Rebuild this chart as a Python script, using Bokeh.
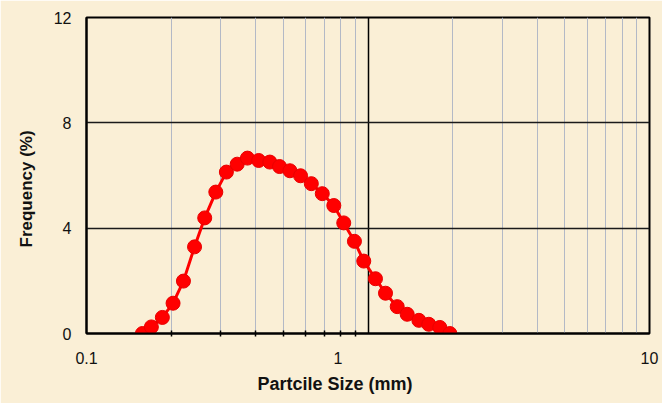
import math
from bokeh.plotting import figure
from bokeh.models import Range1d, FixedTicker, Title
from bokeh.embed import file_html
from bokeh.resources import INLINE

# ---- data ----
size_mm = [0.158, 0.170, 0.186, 0.203, 0.221, 0.242, 0.263, 0.288, 0.314, 0.343,
           0.373, 0.409, 0.448, 0.485, 0.528, 0.576, 0.629, 0.688, 0.756, 0.820,
           0.895, 0.966, 1.063, 1.154, 1.270, 1.378, 1.516, 1.644, 1.799, 1.953]
frequency = [0.00, 0.25, 0.61, 1.15, 1.99, 3.29, 4.39, 5.37, 6.13, 6.43,
             6.66, 6.57, 6.51, 6.34, 6.18, 5.99, 5.69, 5.31, 4.86, 4.20,
             3.50, 2.75, 2.08, 1.53, 1.02, 0.73, 0.50, 0.35, 0.23, 0.00]

x_ticks = [0.1, 1, 10]
x_tick_labels = ["0.1", "1", "10"]
x_minor_marks = [0.2, 0.3, 0.4, 0.5, 0.6, 0.7, 0.8, 0.9]
x_minor_grid = [0.2, 0.3, 0.4, 0.5, 0.6, 0.7, 0.8, 0.9, 2, 3, 4, 5, 6, 7, 8, 9]
y_ticks = [0, 4, 8, 12]
x_title = "Partcile Size (mm)"
y_title = "Frequency (%)"

BG = "#FAEFD6"
FONT = "Liberation Sans"
TXT = "#111111"

W, H = 662, 403
FRAME_L, FRAME_R, FRAME_T, FRAME_B = 86, 649, 17, 334
DECADE_PX = (FRAME_R - FRAME_L) / 2.0

p = figure(width=W, height=H, x_axis_type="log",
           x_range=Range1d(0.1, 10), y_range=Range1d(0, 12),
           output_backend="svg", toolbar_location=None,
           min_border_left=FRAME_L, min_border_right=W - FRAME_R,
           min_border_top=FRAME_T, min_border_bottom=H - FRAME_B)
p.background_fill_color = BG
p.border_fill_color = BG
p.outline_line_color = "black"
p.outline_line_width = 2

# in the reference the "1" label sits about 30 px left of its gridline
label_pos = [x_ticks[0], x_ticks[1] * 10 ** (-30 / DECADE_PX), x_ticks[2]]
p.xaxis.ticker = FixedTicker(ticks=label_pos, minor_ticks=x_minor_marks)
p.xaxis.major_label_overrides = {pos: lab for pos, lab in zip(label_pos, x_tick_labels)}
p.xaxis.major_label_text_font = FONT
p.xaxis.major_label_text_font_size = "16px"
p.xaxis.major_label_text_color = TXT
p.xaxis.major_label_standoff = 15
p.xaxis.major_tick_in = 0
p.xaxis.major_tick_out = 0
p.xaxis.minor_tick_in = 3
p.xaxis.minor_tick_out = 3
p.xaxis.minor_tick_line_color = "black"
p.xaxis.minor_tick_line_width = 1.5
p.xaxis.axis_line_color = "black"
p.xaxis.axis_line_width = 2

p.yaxis.ticker = FixedTicker(ticks=y_ticks)
p.yaxis.major_label_text_font = FONT
p.yaxis.major_label_text_font_size = "16px"
p.yaxis.major_label_text_color = TXT
p.yaxis.major_label_standoff = 15
p.yaxis.major_tick_in = 0
p.yaxis.major_tick_out = 0
p.yaxis.minor_tick_line_color = None
p.yaxis.axis_line_color = "black"
p.yaxis.axis_line_width = 2

# grids
p.xgrid.ticker = FixedTicker(ticks=x_ticks, minor_ticks=x_minor_grid)
p.xgrid.grid_line_color = "black"
p.xgrid.grid_line_width = 1.5
p.xgrid.minor_grid_line_color = "#B3B9C6"
p.xgrid.minor_grid_line_width = 1
p.ygrid.ticker = FixedTicker(ticks=y_ticks)
p.ygrid.grid_line_color = "#1A1A1A"
p.ygrid.grid_line_width = 1.5

# data
p.line(size_mm, frequency, line_color="#FF0000", line_width=3)
p.scatter(size_mm, frequency, size=14, fill_color="#FF0000",
          line_color="#E80000", line_width=1)

# axis titles (shifted off-centre as in the reference)
p.add_layout(Title(text=x_title, align="left", offset=171, standoff=15,
                   vertical_align="top", text_line_height=1.0,
                   text_font=FONT, text_font_size="18px", text_font_style="bold",
                   text_color=TXT), "below")
p.add_layout(Title(text=y_title, align="left", offset=86, standoff=29,
                   text_font=FONT, text_font_size="17px", text_font_style="bold",
                   text_color=TXT), "left")

html = file_html(p, INLINE)
open("out.html", "w").write(html)
